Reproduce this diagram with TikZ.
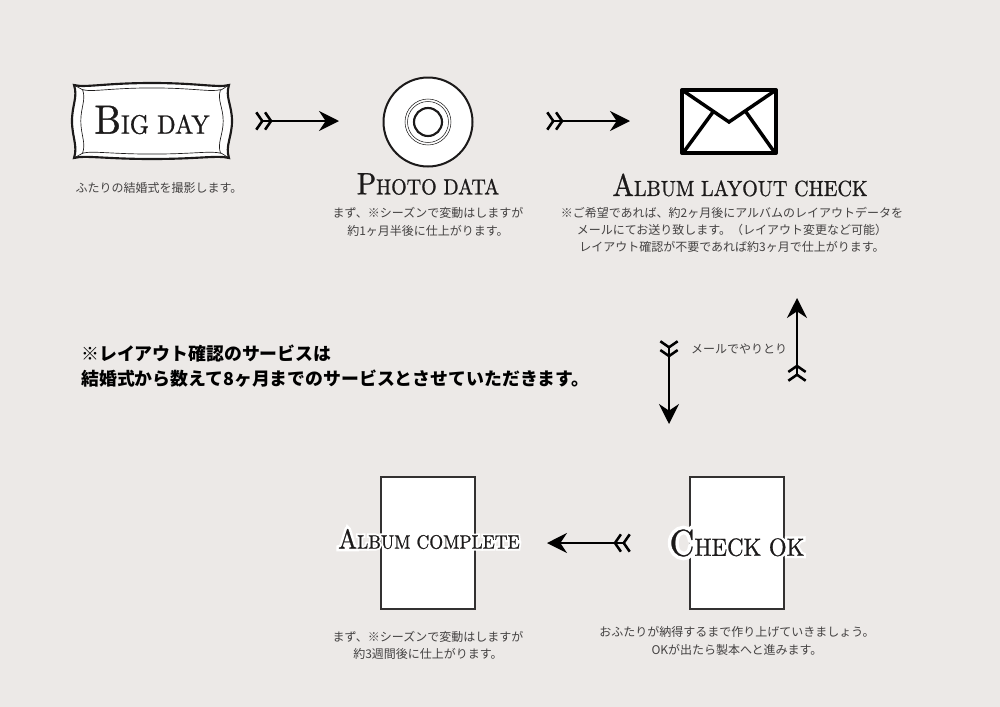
\documentclass[tikz,border=0pt]{standalone}
\usepackage{fontspec}
\newfontfamily\cjk{Noto Sans CJK JP}
\newfontfamily\titlefont{lmroman10-regular.otf}[FakeBold=0.8,FakeStretch=0.92]
\newfontfamily\halofont{lmroman10-regular.otf}[FakeBold=20,FakeStretch=0.92]
\usetikzlibrary{arrows.meta}
\definecolor{paper}{HTML}{ECE9E7}
\definecolor{ink}{HTML}{1C1A1A}
\definecolor{note}{HTML}{444242}
\newcommand{\bigcaps}[4]{{\titlefont\fontsize{#3}{#3}\selectfont #1}{\titlefont\fontsize{#4}{#4}\selectfont #2}}
\newcommand{\halocaps}[4]{{\halofont\fontsize{#3}{#3}\selectfont #1}{\halofont\fontsize{#4}{#4}\selectfont #2}}
\newcommand{\pillowpath}{(74,85) .. controls (85,88) and (105,83) .. (152,83) .. controls (199,83) and (218,88) .. (229,85) .. controls (225,97) and (232,105) .. (232,121) .. controls (232,137) and (225,146) .. (229,158) .. controls (218,155) and (199,159) .. (152,159) .. controls (105,159) and (85,155) .. (74,158) .. controls (78,146) and (72,137) .. (72,121) .. controls (72,105) and (78,97) .. (74,85) -- cycle}
\tikzset{
	notetext/.style={text=note,align=center,font=\cjk\fontsize{9}{12.9}\selectfont,inner sep=0pt},
	warntext/.style={text=black,align=left,anchor=west,font=\cjk\bfseries\fontsize{13.4}{18.8}\selectfont,inner sep=0pt},
	titletext/.style={text=ink,inner sep=0pt},
	halotext/.style={text=white,inner sep=0pt},
	pagebox/.style={draw=ink!90,line width=1.5pt,fill=white},
	fletcharrow/.style={line width=1.4pt,
		{Straight Barb[reversed,length=4.5pt,width=13pt,line width=1.9pt]Straight Barb[reversed,length=4.5pt,width=13pt,line width=1.9pt]}-{Stealth[length=15pt,width=15pt,inset=5pt]}}
}
\begin{document}
\begin{tikzpicture}[line cap=butt,line join=miter,x=0.75pt,y=-0.75pt]
	\fill [paper] (0,0) rectangle (1000,707);
	\useasboundingbox (0,0) rectangle (1000,707);
	% big day frame
	\draw [line width=1.6pt,draw=ink,fill=white] \pillowpath;
	\draw [line width=0.5pt,draw=ink,shift={(152,121)},xscale=0.89,yscale=0.87,shift={(-152,-121)}] \pillowpath;
	\draw [line width=0.5pt,draw=ink] (74,85) -- (83,90) (229,85) -- (221,90) (229,158) -- (221,153) (74,158) -- (83,153);
	\node [titletext] (bigday) at (152,120) {\bigcaps{B}{IG DAY}{30.6}{19.9}};
	\node [notetext] (bigdaynote) at (159,188) {ふたりの結婚式を撮影します。};
	% disc
	\draw [line width=1.5pt,draw=ink,fill=white] (428,122) circle (44.5);
	\draw [line width=0.4pt,draw=ink] (428,122) circle (23);
	\draw [line width=0.4pt,draw=ink] (428,122) circle (20.5);
	\draw [line width=1.6pt,draw=ink] (428,122) circle (14);
	\node [titletext] (photo) at (428,184) {\bigcaps{P}{HOTO DATA}{23.2}{16.3}};
	\node [notetext] (photonote) at (428,222) {まず、※シーズンで変動はしますが\\約1ヶ月半後に仕上がります。};
	% envelope
	\draw [line width=3pt,draw=black,fill=white,line join=round] (682,90) rectangle (776,153);
	\draw [line width=2.6pt,draw=black] (682,90) -- (729,122) -- (776,90);
	\draw [line width=2.6pt,draw=black] (683,153) -- (713,112);
	\draw [line width=2.6pt,draw=black] (775,153) -- (746,112);
	\node [titletext] (layout) at (740,185) {\bigcaps{A}{LBUM LAYOUT CHECK}{23.5}{16.4}};
	\node [notetext] (layoutnote) at (732,230) {※ご希望であれば、約2ヶ月後にアルバムのレイアウトデータを\\メールにてお送り致します。（レイアウト変更など可能）\\レイアウト確認が不要であれば約3ヶ月で仕上がります。};
	% warning
	\node [warntext] (warn) at (81,366) {※レイアウト確認のサービスは\\結婚式から数えて8ヶ月までのサービスとさせていただきます。};
	\node [notetext] (mailnote) at (739,349) {メールでやりとり};
	% books
	\draw [pagebox] (381,477) rectangle (475,609);
	\draw [pagebox] (690,477) rectangle (784,609);
	\node [halotext] (completehalo) at (429,539) {\halocaps{A}{LBUM COMPLETE}{20.6}{14.5}};
	\node [titletext] (complete) at (429,539) {\bigcaps{A}{LBUM COMPLETE}{20.6}{14.5}};
	\node [halotext] (checkokhalo) at (737,543) {\halocaps{C}{HECK OK}{28}{18.6}};
	\node [titletext] (checkok) at (737,543) {\bigcaps{C}{HECK OK}{28}{18.6}};
	\node [notetext] (completenote) at (428,645) {まず、※シーズンで変動はしますが\\約3週間後に仕上がります。};
	\node [notetext] (checknote) at (737,641) {おふたりが納得するまで作り上げていきましょう。\\OKが出たら製本へと進みます。};
	% arrows
	\coordinate (a1) at (255,121);
	\coordinate (b1) at (339,121);
	\coordinate (a2) at (546,121);
	\coordinate (b2) at (630,121);
	\coordinate (a3) at (669,340);
	\coordinate (b3) at (669,424);
	\coordinate (a4) at (797,382);
	\coordinate (b4) at (797,298);
	\coordinate (a5) at (631,543);
	\coordinate (b5) at (547,543);
	\draw [fletcharrow] (a1) -- (b1);
	\draw [fletcharrow] (a2) -- (b2);
	\draw [fletcharrow] (a3) -- (b3);
	\draw [fletcharrow] (a4) -- (b4);
	\draw [fletcharrow] (a5) -- (b5);
\end{tikzpicture}
\end{document}
